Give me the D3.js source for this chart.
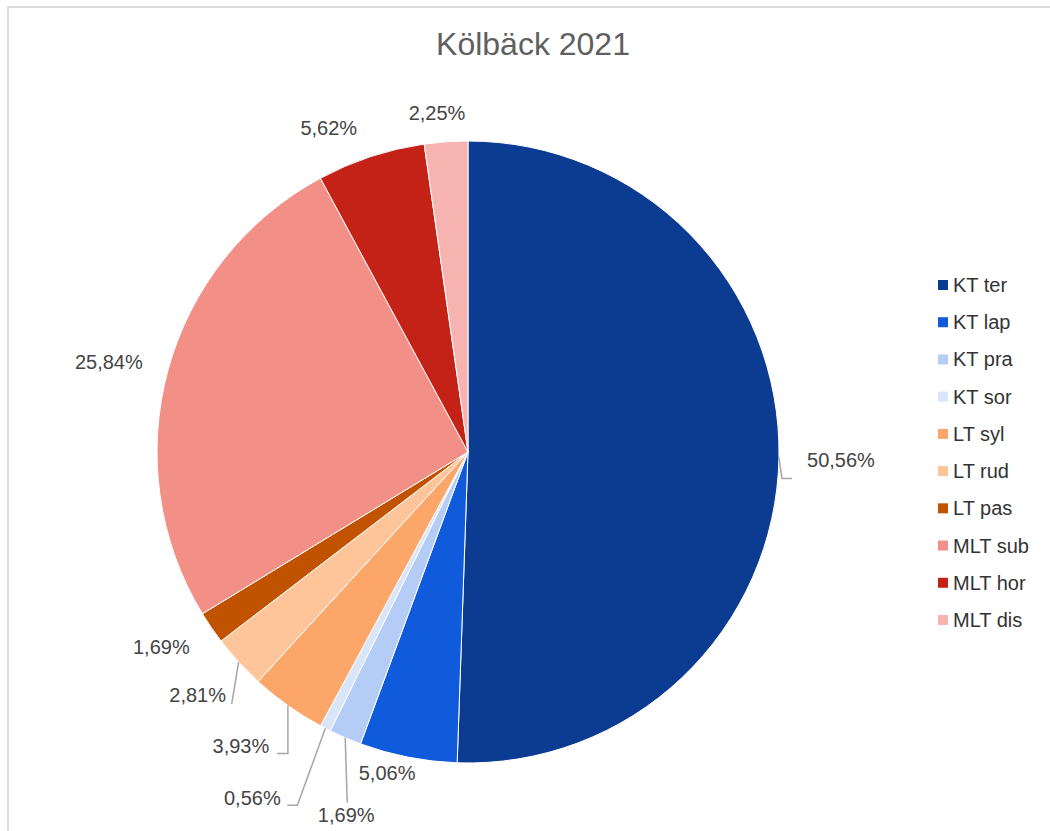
<!DOCTYPE html>
<html>
<head>
<meta charset="utf-8">
<script src="https://cdn.jsdelivr.net/npm/d3@7"></script>
<style>
  html, body { margin: 0; padding: 0; background: #fff; }
  svg { display: block; }
  text { font-family: "Liberation Sans", Arial, sans-serif; }
</style>
</head>
<body>
<svg id="chart" width="1050" height="831"></svg>
<script>
// Species shares in the Kölbäck 2021 survey
const categories = ["KT ter", "KT lap", "KT pra", "KT sor", "LT syl", "LT rud", "LT pas", "MLT sub", "MLT hor", "MLT dis"];
const shares = [50.56, 5.06, 1.69, 0.56, 3.93, 2.81, 1.69, 25.84, 5.62, 2.25];
const colors = ["#0c3b92", "#105bdb", "#b5cdf6", "#d9e6fa", "#fca66a", "#fec49a", "#c15200", "#f28f86", "#c42216", "#f7b3b0"];
const title = "Kölbäck 2021";

// Label placement relative to the slice's outer mid-point:
// text = label centre offset, elbow = leader bend (null = no leader), tail = horizontal run after bend
const labelLayout = [
  { text: [62, 3],    elbow: [3, 21],   tail: 10 },
  { text: [-21, 16],  elbow: null },
  { text: [1, 77],    elbow: [2, 65],   tail: 0 },
  { text: [-73, 70],  elbow: [-28, 77], tail: -10 },
  { text: [-47, 40],  elbow: [0, 48],   tail: -11 },
  { text: [-41, 33],  elbow: [-7, 42],  tail: 0 },
  { text: [-50, 19],  elbow: null },
  { text: [-59, -9],  elbow: null },
  { text: [-42, -29], elbow: null },
  { text: [-9, -29],  elbow: null }
];

const data = categories.map((c, i) => ({ name: c, value: shares[i], color: colors[i], layout: labelLayout[i] }));

const svg = d3.select("#chart");
const cx = 468, cy = 452, radius = 311;

// frame edges
svg.append("line").attr("x1", 7).attr("x2", 1050).attr("y1", 7).attr("y2", 7)
  .attr("stroke", "#dcdcdc").attr("stroke-width", 2);
svg.append("line").attr("x1", 8).attr("x2", 8).attr("y1", 6).attr("y2", 831)
  .attr("stroke", "#dcdcdc").attr("stroke-width", 2);

// title
svg.append("text")
  .attr("x", 533).attr("y", 55)
  .attr("text-anchor", "middle")
  .attr("font-size", 32)
  .attr("fill", "#5f5f5f")
  .text(title);

const pie = d3.pie().sort(null).value(d => d.value);
const arc = d3.arc().innerRadius(0).outerRadius(radius);
const arcs = pie(data);

const g = svg.append("g").attr("transform", `translate(${cx},${cy})`);

g.selectAll("path.slice")
  .data(arcs)
  .join("path")
  .attr("class", "slice")
  .attr("d", arc)
  .attr("fill", d => d.data.color)
  .attr("stroke", "#fff")
  .attr("stroke-width", 1);

const fmt = v => v.toFixed(2).replace(".", ",") + "%";

arcs.forEach(a => {
  const mid = (a.startAngle + a.endAngle) / 2;
  const ex = radius * Math.sin(mid);
  const ey = -radius * Math.cos(mid);
  const L = a.data.layout;
  if (L.elbow) {
    const bx = ex + L.elbow[0], by = ey + L.elbow[1];
    const pts = [[ex, ey], [bx, by]];
    if (L.tail) pts.push([bx + L.tail, by]);
    g.append("path")
      .attr("d", d3.line()(pts))
      .attr("fill", "none")
      .attr("stroke", "#a6a6a6")
      .attr("stroke-width", 1.5);
  }
  g.append("text")
    .attr("x", ex + L.text[0])
    .attr("y", ey + L.text[1])
    .attr("text-anchor", "middle")
    .attr("dominant-baseline", "central")
    .attr("font-size", 20)
    .attr("fill", "#444")
    .text(fmt(a.data.value));
});

// legend
const legendY = d3.scalePoint().domain(categories).range([285, 620]);
const legend = svg.append("g");
data.forEach(d => {
  const y = legendY(d.name);
  legend.append("rect")
    .attr("x", 938).attr("y", y - 5)
    .attr("width", 10).attr("height", 10)
    .attr("fill", d.color);
  legend.append("text")
    .attr("x", 953).attr("y", y)
    .attr("dominant-baseline", "central")
    .attr("font-size", 20)
    .attr("fill", "#333")
    .text(d.name);
});
</script>
</body>
</html>
